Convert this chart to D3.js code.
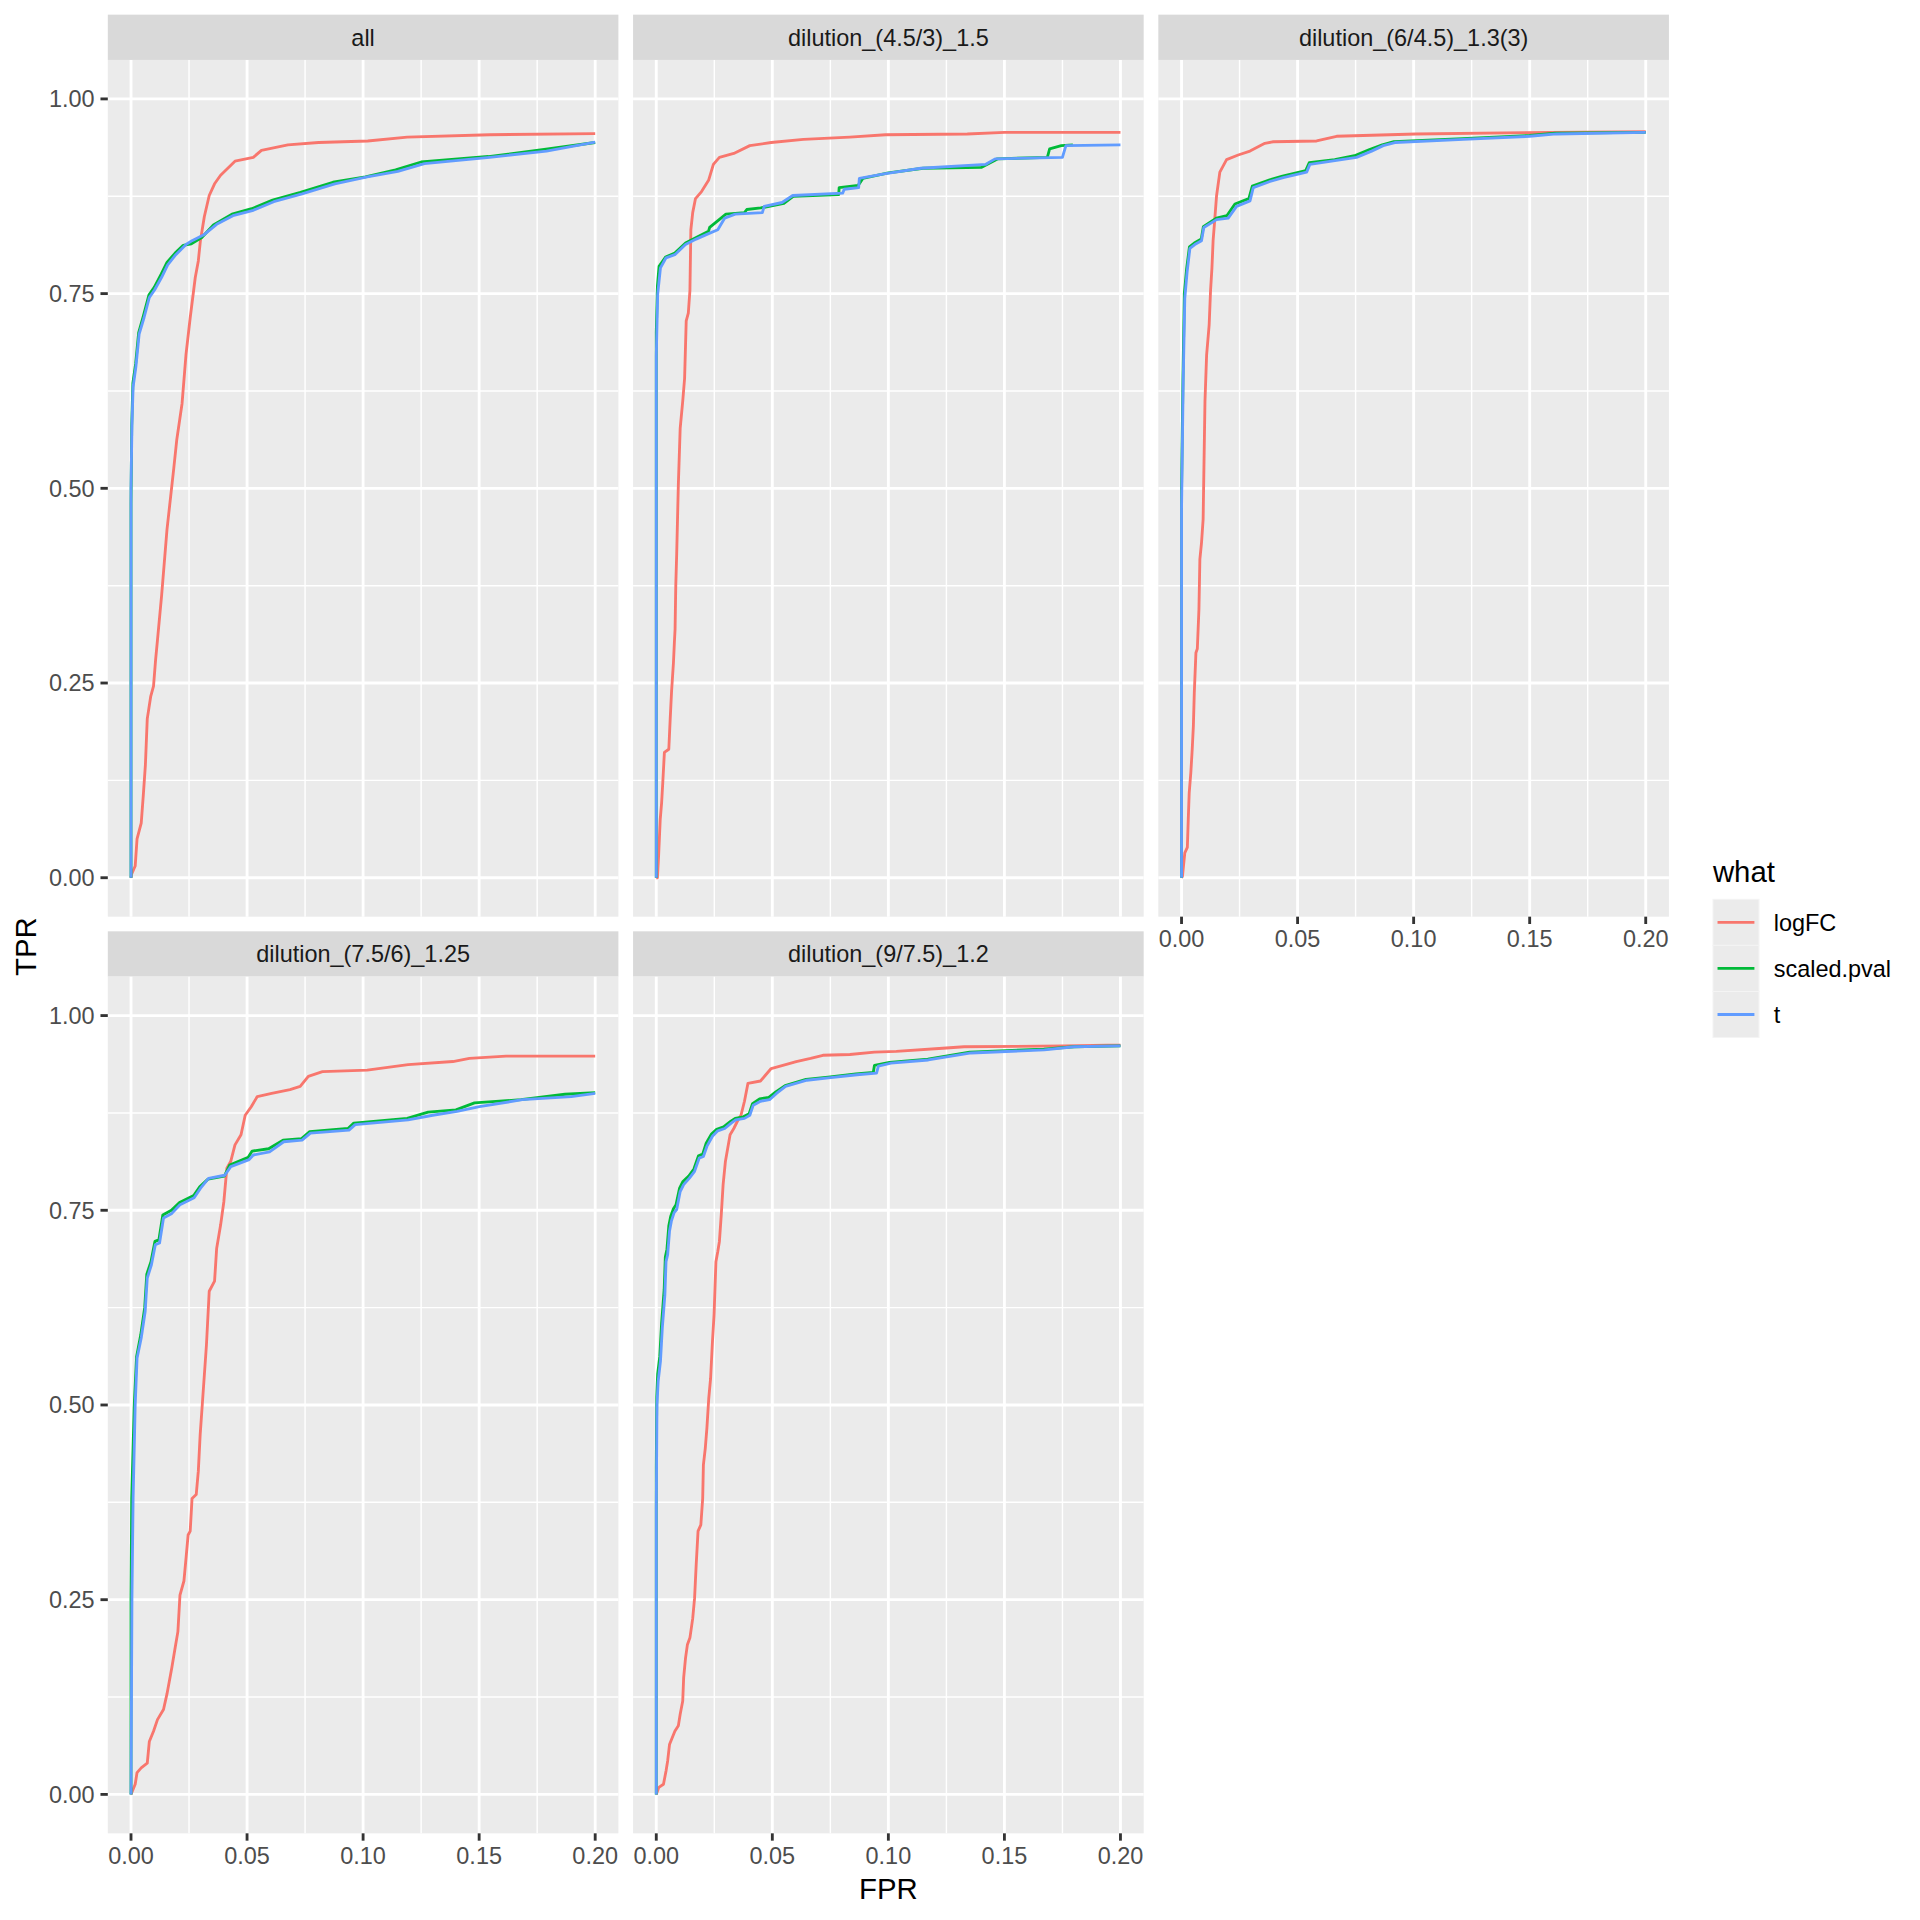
<!DOCTYPE html>
<html>
<head>
<meta charset="utf-8">
<script src="https://cdn.jsdelivr.net/npm/d3@7"></script>
<style>
  html, body { margin: 0; padding: 0; background: #fff; }
  svg { display: block; font-family: "Liberation Sans", Arial, Helvetica, sans-serif; }
</style>
</head>
<body>
<svg id="chart" width="1920" height="1920"></svg>
<script>
// ---------------- data ----------------
const panelNames = ["all", "dilution_(4.5/3)_1.5", "dilution_(6/4.5)_1.3(3)", "dilution_(7.5/6)_1.25", "dilution_(9/7.5)_1.2"];
const seriesNames = ["logFC", "scaled.pval", "t"];
const seriesColors = ["#F8766D", "#00BA38", "#619CFF"];
const xTicks = [0, 0.05, 0.10, 0.15, 0.20];
const xTickLabels = ["0.00", "0.05", "0.10", "0.15", "0.20"];
const xMinor = [0.025, 0.075, 0.125, 0.175];
const yTicks = [0, 0.25, 0.5, 0.75, 1];
const yTickLabels = ["0.00", "0.25", "0.50", "0.75", "1.00"];
const yMinor = [0.125, 0.375, 0.625, 0.875];

// [FPR, TPR]
const all_logFC = [[0,0],[0.0003,0.005],[0.0018,0.015],[0.0026,0.05],[0.0044,0.07],[0.0053,0.106],[0.0062,0.145],[0.007,0.204],[0.0085,0.233],[0.0097,0.246],[0.0106,0.28],[0.0114,0.305],[0.0132,0.363],[0.0155,0.447],[0.0184,0.525],[0.0197,0.562],[0.022,0.609],[0.0237,0.672],[0.0255,0.719],[0.0277,0.771],[0.029,0.792],[0.0299,0.818],[0.0316,0.849],[0.0337,0.876],[0.036,0.891],[0.0386,0.902],[0.0448,0.92],[0.0527,0.925],[0.0562,0.934],[0.0676,0.941],[0.0808,0.944],[0.102,0.946],[0.119,0.951],[0.1545,0.954],[0.2,0.9555]];
const all_scaled_pval = [[0,0],[0,0.48],[0.0003,0.58],[0.0008,0.635],[0.002,0.66],[0.0033,0.70],[0.0054,0.722],[0.0077,0.748],[0.01,0.758],[0.013,0.775],[0.0155,0.79],[0.019,0.802],[0.0225,0.812],[0.026,0.814],[0.0305,0.822],[0.0355,0.838],[0.0435,0.852],[0.052,0.859],[0.061,0.87],[0.073,0.88],[0.087,0.893],[0.101,0.90],[0.114,0.909],[0.125,0.919],[0.154,0.926],[0.178,0.935],[0.2,0.944]];
const all_t = [[0,0],[0,0.5],[0.0004,0.58],[0.0009,0.63],[0.0021,0.656],[0.0035,0.698],[0.0056,0.719],[0.0079,0.745],[0.0102,0.755],[0.0132,0.771],[0.0158,0.787],[0.0193,0.80],[0.0237,0.813],[0.0263,0.818],[0.0316,0.826],[0.0369,0.839],[0.0439,0.85],[0.0527,0.857],[0.0615,0.868],[0.0737,0.878],[0.0878,0.891],[0.1018,0.90],[0.115,0.907],[0.1264,0.917],[0.1545,0.925],[0.179,0.933],[0.2,0.9446]];

const d45_logFC = [[0,0],[0.0005,0.0],[0.001,0.028],[0.0017,0.075],[0.0023,0.096],[0.0028,0.122],[0.0035,0.161],[0.0054,0.165],[0.006,0.204],[0.0066,0.24],[0.0074,0.276],[0.0078,0.302],[0.0081,0.319],[0.0084,0.375],[0.0088,0.416],[0.0095,0.504],[0.0103,0.577],[0.0114,0.612],[0.0122,0.641],[0.0129,0.715],[0.0138,0.725],[0.0145,0.754],[0.0149,0.832],[0.0157,0.854],[0.0169,0.872],[0.0195,0.881],[0.0226,0.896],[0.0246,0.916],[0.0272,0.925],[0.0334,0.93],[0.0403,0.94],[0.0495,0.944],[0.0634,0.948],[0.0834,0.951],[0.0988,0.954],[0.134,0.955],[0.15,0.957],[0.2,0.957]];
const d45_scaled_pval = [[0,0],[0,0.7],[0.0005,0.76],[0.0012,0.785],[0.004,0.797],[0.008,0.802],[0.0126,0.815],[0.0172,0.822],[0.0225,0.83],[0.023,0.835],[0.0275,0.846],[0.03,0.852],[0.038,0.854],[0.039,0.858],[0.045,0.86],[0.055,0.866],[0.059,0.875],[0.0786,0.877],[0.0788,0.886],[0.087,0.889],[0.089,0.898],[0.10,0.905],[0.115,0.911],[0.14,0.912],[0.147,0.923],[0.1685,0.925],[0.1695,0.936],[0.1745,0.94],[0.1795,0.941]];
const d45_t = [[0,0],[0,0.67],[0.0006,0.749],[0.0018,0.783],[0.0042,0.796],[0.008,0.80],[0.0126,0.813],[0.0172,0.82],[0.0218,0.826],[0.0265,0.832],[0.0295,0.847],[0.034,0.852],[0.0457,0.854],[0.0465,0.862],[0.0542,0.867],[0.0588,0.876],[0.0803,0.879],[0.081,0.884],[0.0872,0.886],[0.0875,0.898],[0.0988,0.904],[0.114,0.911],[0.142,0.916],[0.146,0.923],[0.175,0.925],[0.1765,0.94],[0.2,0.941]];

const d6_logFC = [[0,0],[0.0004,0.002],[0.0014,0.032],[0.0025,0.039],[0.0029,0.075],[0.0033,0.109],[0.004,0.135],[0.0046,0.165],[0.0051,0.195],[0.0055,0.238],[0.0062,0.289],[0.0068,0.294],[0.0075,0.345],[0.0079,0.409],[0.0086,0.43],[0.0093,0.46],[0.0101,0.612],[0.0108,0.671],[0.0119,0.71],[0.0125,0.754],[0.0131,0.783],[0.0136,0.818],[0.0141,0.837],[0.0151,0.876],[0.0165,0.906],[0.0194,0.922],[0.0244,0.928],[0.0295,0.933],[0.0359,0.943],[0.0395,0.945],[0.0582,0.946],[0.0668,0.952],[0.101,0.955],[0.159,0.957],[0.2,0.958]];
const d6_scaled_pval = [[0,0],[0,0.5],[0.0006,0.64],[0.0012,0.75],[0.0022,0.782],[0.0034,0.81],[0.0055,0.815],[0.0085,0.82],[0.0094,0.836],[0.015,0.847],[0.0195,0.85],[0.023,0.865],[0.029,0.872],[0.0305,0.888],[0.038,0.896],[0.0435,0.901],[0.0535,0.908],[0.055,0.918],[0.066,0.922],[0.0745,0.927],[0.081,0.935],[0.0865,0.941],[0.0915,0.945],[0.121,0.949],[0.15,0.953],[0.161,0.956],[0.2,0.957]];
const d6_t = [[0,0],[0,0.474],[0.0007,0.636],[0.0014,0.744],[0.0024,0.778],[0.0036,0.808],[0.0057,0.813],[0.0086,0.818],[0.0096,0.835],[0.0151,0.845],[0.0201,0.847],[0.0237,0.862],[0.0295,0.869],[0.0309,0.886],[0.0381,0.894],[0.0438,0.899],[0.0539,0.906],[0.0553,0.916],[0.0668,0.921],[0.0754,0.925],[0.0819,0.933],[0.0869,0.94],[0.0919,0.944],[0.1214,0.948],[0.15,0.952],[0.1615,0.955],[0.2,0.957]];

const d75_logFC = [[0,0],[0.0018,0.013],[0.0026,0.028],[0.0044,0.034],[0.007,0.04],[0.0079,0.068],[0.0097,0.081],[0.0114,0.096],[0.014,0.109],[0.0155,0.129],[0.0176,0.163],[0.019,0.188],[0.0202,0.209],[0.0211,0.256],[0.0228,0.274],[0.0237,0.303],[0.0246,0.333],[0.0255,0.338],[0.0263,0.38],[0.0281,0.385],[0.029,0.415],[0.0298,0.462],[0.0307,0.50],[0.0325,0.577],[0.0337,0.646],[0.036,0.659],[0.0369,0.701],[0.0386,0.731],[0.04,0.761],[0.0413,0.804],[0.043,0.813],[0.0448,0.834],[0.0474,0.847],[0.0492,0.872],[0.0518,0.883],[0.0544,0.896],[0.0606,0.90],[0.0685,0.905],[0.0729,0.909],[0.0764,0.922],[0.0825,0.928],[0.1018,0.93],[0.1194,0.937],[0.1387,0.941],[0.1458,0.945],[0.1616,0.948],[0.2,0.948]];
const d75_scaled_pval = [[0,0],[0,0.25],[0.0003,0.38],[0.0014,0.50],[0.0024,0.562],[0.0042,0.59],[0.0059,0.625],[0.0068,0.668],[0.0086,0.684],[0.0103,0.71],[0.012,0.712],[0.0137,0.744],[0.0174,0.75],[0.0209,0.76],[0.027,0.769],[0.0296,0.78],[0.0332,0.79],[0.0402,0.794],[0.0425,0.808],[0.0505,0.818],[0.0522,0.826],[0.0593,0.829],[0.0655,0.84],[0.0735,0.842],[0.077,0.851],[0.0935,0.855],[0.096,0.862],[0.119,0.868],[0.128,0.876],[0.14,0.879],[0.148,0.888],[0.168,0.892],[0.187,0.899],[0.2,0.901]];
const d75_t = [[0,0],[0.0004,0.252],[0.0009,0.38],[0.0018,0.50],[0.0026,0.56],[0.0044,0.586],[0.0061,0.62],[0.007,0.663],[0.0088,0.68],[0.0105,0.706],[0.0123,0.708],[0.014,0.74],[0.0176,0.746],[0.0211,0.757],[0.0272,0.766],[0.0299,0.778],[0.0334,0.791],[0.0404,0.795],[0.043,0.806],[0.0509,0.815],[0.0527,0.821],[0.0597,0.825],[0.0658,0.838],[0.0737,0.84],[0.0773,0.849],[0.0939,0.853],[0.0966,0.86],[0.1194,0.866],[0.13,0.872],[0.1405,0.877],[0.1501,0.883],[0.1686,0.892],[0.1897,0.896],[0.2,0.90]];

const d9_logFC = [[0,0],[0.0011,0.009],[0.0031,0.013],[0.0042,0.03],[0.0049,0.043],[0.0057,0.064],[0.008,0.081],[0.0095,0.088],[0.0103,0.103],[0.0114,0.12],[0.0118,0.15],[0.0126,0.175],[0.0134,0.192],[0.0145,0.201],[0.0157,0.226],[0.0165,0.252],[0.0172,0.295],[0.018,0.338],[0.0192,0.346],[0.02,0.38],[0.0203,0.423],[0.0211,0.444],[0.0218,0.47],[0.0226,0.508],[0.0234,0.534],[0.0242,0.581],[0.0249,0.616],[0.0257,0.684],[0.0265,0.697],[0.0272,0.71],[0.028,0.744],[0.0288,0.783],[0.0298,0.813],[0.0318,0.847],[0.0334,0.855],[0.0349,0.864],[0.0365,0.872],[0.038,0.89],[0.0395,0.913],[0.0449,0.916],[0.0472,0.924],[0.0495,0.932],[0.0557,0.937],[0.0603,0.941],[0.0665,0.945],[0.0718,0.949],[0.0834,0.95],[0.094,0.953],[0.1034,0.954],[0.1234,0.958],[0.1326,0.96],[0.1757,0.961],[0.1942,0.962],[0.2,0.962]];
const d9_scaled_pval = [[0,0],[0,0.42],[0.0002,0.51],[0.0006,0.54],[0.0015,0.562],[0.0023,0.605],[0.0034,0.648],[0.0039,0.69],[0.0046,0.70],[0.0054,0.73],[0.0062,0.742],[0.0074,0.752],[0.0085,0.757],[0.01,0.778],[0.0115,0.787],[0.014,0.794],[0.0162,0.803],[0.0182,0.82],[0.02,0.822],[0.0215,0.836],[0.0238,0.848],[0.026,0.854],[0.029,0.857],[0.032,0.864],[0.034,0.868],[0.0375,0.87],[0.04,0.874],[0.0415,0.887],[0.0445,0.893],[0.0485,0.895],[0.0515,0.902],[0.0555,0.91],[0.0645,0.918],[0.074,0.921],[0.086,0.925],[0.0935,0.927],[0.094,0.936],[0.1005,0.94],[0.117,0.944],[0.135,0.953],[0.167,0.957],[0.18,0.96],[0.2,0.961]];
const d9_t = [[0,0],[0,0.367],[0.0003,0.50],[0.0008,0.53],[0.0018,0.556],[0.0026,0.599],[0.0037,0.641],[0.0042,0.684],[0.0049,0.693],[0.0057,0.723],[0.0065,0.736],[0.0077,0.747],[0.0088,0.751],[0.0103,0.774],[0.0118,0.783],[0.0142,0.791],[0.0165,0.80],[0.0185,0.817],[0.0203,0.819],[0.0218,0.832],[0.0242,0.845],[0.0265,0.852],[0.0295,0.855],[0.0323,0.862],[0.0342,0.866],[0.038,0.868],[0.0403,0.872],[0.0418,0.885],[0.0449,0.89],[0.0488,0.892],[0.0518,0.90],[0.0557,0.909],[0.0649,0.917],[0.0742,0.92],[0.0865,0.924],[0.0949,0.926],[0.0957,0.935],[0.1011,0.939],[0.1172,0.943],[0.1357,0.952],[0.1672,0.956],[0.18,0.96],[0.2,0.961]];

const panelSeries = [
  [all_logFC, all_scaled_pval, all_t],
  [d45_logFC, d45_scaled_pval, d45_t],
  [d6_logFC, d6_scaled_pval, d6_t],
  [d75_logFC, d75_scaled_pval, d75_t],
  [d9_logFC, d9_scaled_pval, d9_t]
];

// ---------------- layout ----------------
const PT = 192 / 72;                  // px per point
const margin = 5.5 * PT;
const panelW = 510.6, panelH = 856.7, stripH = 45.3, gap = 5.5 * PT;
const left0 = 107.8, top0 = margin;
const lineW = 0.5 * 72.27 / 25.4 * 2;  // ggplot 0.5 linewidth in px at 192dpi
const axisFont = 8.8 * PT, titleFont = 11 * PT;
const tickLen = 2.75 * PT;

const svg = d3.select("#chart");
svg.append("rect").attr("width", 1920).attr("height", 1920).attr("fill", "#ffffff");

const x = d3.scaleLinear().domain([-0.01, 0.21]).range([0, panelW]);
const y = d3.scaleLinear().domain([-0.05, 1.05]).range([panelH, 0]);
const line = d3.line().x(d => x(d[0])).y(d => y(d[1]));

const defs = svg.append("defs");
defs.append("clipPath").attr("id", "pclip")
  .append("rect").attr("width", panelW).attr("height", panelH);

panelNames.forEach((name, i) => {
  const col = i % 3, row = Math.floor(i / 3);
  const px = left0 + col * (panelW + gap);
  const sy = top0 + row * (stripH + panelH + gap);
  const py = sy + stripH;

  // strip
  svg.append("rect").attr("x", px).attr("y", sy).attr("width", panelW).attr("height", stripH).attr("fill", "#D9D9D9");
  svg.append("text").attr("x", px + panelW / 2).attr("y", sy + stripH / 2 + 0.36 * axisFont)
    .attr("text-anchor", "middle").attr("font-size", axisFont).attr("fill", "#1A1A1A").text(name);

  const g = svg.append("g").attr("transform", `translate(${px},${py})`);
  g.append("rect").attr("width", panelW).attr("height", panelH).attr("fill", "#EBEBEB");

  // minor grid
  g.selectAll(".xmin").data(xMinor).enter().append("line")
    .attr("x1", d => x(d)).attr("x2", d => x(d)).attr("y1", 0).attr("y2", panelH)
    .attr("stroke", "#fff").attr("stroke-width", lineW / 2);
  g.selectAll(".ymin").data(yMinor).enter().append("line")
    .attr("y1", d => y(d)).attr("y2", d => y(d)).attr("x1", 0).attr("x2", panelW)
    .attr("stroke", "#fff").attr("stroke-width", lineW / 2);
  // major grid
  g.selectAll(".xmaj").data(xTicks).enter().append("line")
    .attr("x1", d => x(d)).attr("x2", d => x(d)).attr("y1", 0).attr("y2", panelH)
    .attr("stroke", "#fff").attr("stroke-width", lineW);
  g.selectAll(".ymaj").data(yTicks).enter().append("line")
    .attr("y1", d => y(d)).attr("y2", d => y(d)).attr("x1", 0).attr("x2", panelW)
    .attr("stroke", "#fff").attr("stroke-width", lineW);

  // data lines
  const lg = g.append("g").attr("clip-path", "url(#pclip)");
  panelSeries[i].forEach((data, s) => {
    lg.append("path").attr("d", line(data)).attr("fill", "none")
      .attr("stroke", seriesColors[s]).attr("stroke-width", lineW)
      .attr("stroke-linejoin", "round").attr("stroke-linecap", "butt");
  });

  // y axis (first column)
  if (col === 0) {
    yTicks.forEach((t, k) => {
      g.append("line").attr("x1", -tickLen).attr("x2", 0).attr("y1", y(t)).attr("y2", y(t))
        .attr("stroke", "#333333").attr("stroke-width", lineW);
      g.append("text").attr("x", -tickLen - 2.2 * PT).attr("y", y(t) + 0.36 * axisFont)
        .attr("text-anchor", "end").attr("font-size", axisFont).attr("fill", "#4D4D4D").text(yTickLabels[k]);
    });
  }
  // x axis (bottom row or panel without panel below)
  if (row === 1 || i === 2) {
    xTicks.forEach((t, k) => {
      g.append("line").attr("x1", x(t)).attr("x2", x(t)).attr("y1", panelH).attr("y2", panelH + tickLen)
        .attr("stroke", "#333333").attr("stroke-width", lineW);
      g.append("text").attr("x", x(t)).attr("y", panelH + tickLen + 2.2 * PT + 0.74 * axisFont)
        .attr("text-anchor", "middle").attr("font-size", axisFont).attr("fill", "#4D4D4D").text(xTickLabels[k]);
    });
  }
});

// axis titles
const plotRight = left0 + 3 * panelW + 2 * gap;
const plotBottom = top0 + 2 * (stripH + panelH) + gap;
svg.append("text").attr("x", (left0 + plotRight) / 2).attr("y", 1898.5)
  .attr("text-anchor", "middle").attr("font-size", titleFont).attr("fill", "#000").text("FPR");
svg.append("text").attr("transform", `translate(36, ${(top0 + stripH + plotBottom) / 2}) rotate(-90)`)
  .attr("text-anchor", "middle").attr("font-size", titleFont).attr("fill", "#000").text("TPR");

// legend
const legX = plotRight + 11 * PT + 5.5 * PT;
const keySize = 17.28 * PT;
const keyTop = 899.3;
svg.append("text").attr("x", legX).attr("y", 881.7).attr("font-size", titleFont).attr("fill", "#000").text("what");
seriesNames.forEach((nm, s) => {
  const ky = keyTop + s * keySize;
  svg.append("rect").attr("x", legX).attr("y", ky).attr("width", keySize).attr("height", keySize)
    .attr("fill", "#EBEBEB").attr("stroke", "#F4F4F4").attr("stroke-width", 1);
  svg.append("line").attr("x1", legX + 4.6).attr("x2", legX + keySize - 4.6)
    .attr("y1", ky + keySize / 2).attr("y2", ky + keySize / 2)
    .attr("stroke", seriesColors[s]).attr("stroke-width", lineW);
  svg.append("text").attr("x", legX + keySize + 5.5 * PT).attr("y", ky + keySize / 2 + 0.36 * axisFont)
    .attr("font-size", axisFont).attr("fill", "#000").text(nm);
});
</script>
</body>
</html>
